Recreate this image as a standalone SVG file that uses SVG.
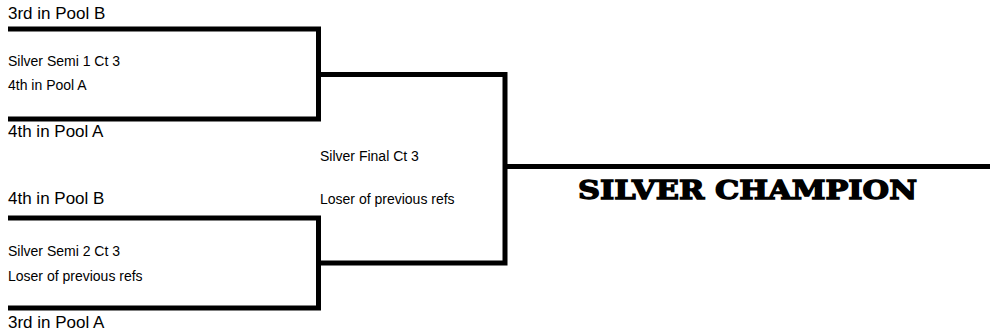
<svg xmlns="http://www.w3.org/2000/svg" width="990" height="331" viewBox="0 0 990 331">
<style>
.ln{fill:none;stroke:#000;stroke-width:5;stroke-linejoin:miter;stroke-linecap:butt}
.big{font-family:"Liberation Sans",Arial,sans-serif;font-size:17px;fill:#000}
.sm{font-family:"Liberation Sans",Arial,sans-serif;font-size:14px;fill:#000}
.champ{font-family:"DejaVu Serif",serif;font-weight:900;font-size:26px;fill:#000;stroke:#000;stroke-width:1.3}
</style>
<rect width="990" height="331" fill="#fff"/>
<g id="connectors">
<path class="ln" d="M8,29 H318.5 V119 H8"/>
<path class="ln" d="M8,218 H318.5 V308 H8"/>
<path class="ln" d="M318.5,74.5 H505 V263 H318.5"/>
<path class="ln" d="M505,166.5 H990"/>
</g>
<g id="semi1">
<text class="big" x="8" y="19">3rd in Pool B</text>
<text class="sm" x="8" y="66">Silver Semi 1 Ct 3</text>
<text class="sm" x="8" y="90">4th in Pool A</text>
<text class="big" x="8" y="137">4th in Pool A</text>
</g>
<g id="final">
<text class="sm" x="320" y="161">Silver Final Ct 3</text>
<text class="sm" x="320" y="204">Loser of previous refs</text>
</g>
<g id="semi2">
<text class="big" x="8" y="204">4th in Pool B</text>
<text class="sm" x="8" y="256">Silver Semi 2 Ct 3</text>
<text class="sm" x="8" y="281">Loser of previous refs</text>
<text class="big" x="8" y="328">3rd in Pool A</text>
</g>
<g id="champion">
<text class="champ" x="578" y="199" textLength="339" lengthAdjust="spacingAndGlyphs">SILVER CHAMPION</text>
</g>
</svg>
